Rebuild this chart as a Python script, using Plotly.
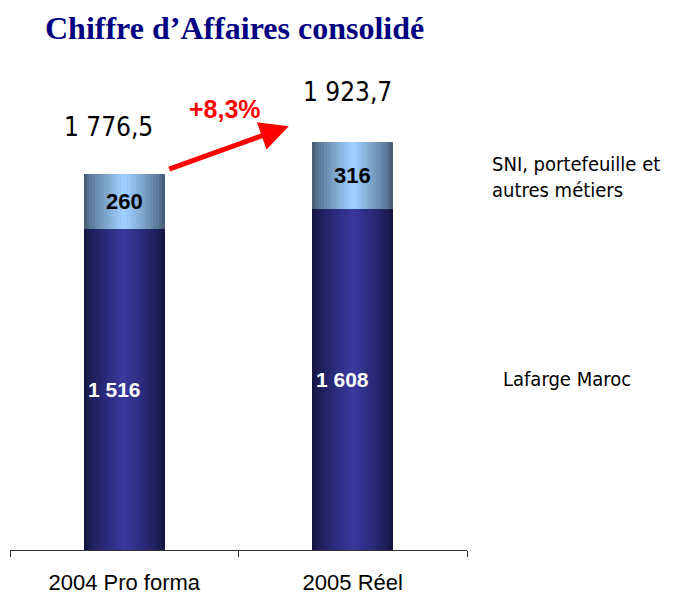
import plotly.graph_objects as go

categories = ["2004 Pro forma", "2005 Réel"]
lafarge = [1516, 1608]
sni = [260, 316]
totals = [1776.5, 1923.7]
total_labels = ["1 776,5", "1 923,7"]
lafarge_labels = ["1 516", "1 608"]
sni_labels = ["260", "316"]
growth_label = "+8,3%"
series_names = ["Lafarge Maroc", "SNI, portefeuille et<br>autres métiers"]

NARROW = "DejaVu Sans Condensed, Liberation Sans Narrow, Arial Narrow, sans-serif"
SANS = "Liberation Sans, Arial, sans-serif"

def lerp(c1, c2, t):
    a = [int(c1[i:i + 2], 16) for i in (1, 3, 5)]
    b = [int(c2[i:i + 2], 16) for i in (1, 3, 5)]
    return "#%02x%02x%02x" % tuple(round(a[k] + (b[k] - a[k]) * t) for k in range(3))

fig = go.Figure()
W = 0.355
N = 14
for i in range(N):
    t = i / (N - 1)
    w = W * (1 - i / N)
    fig.add_trace(go.Bar(x=categories, y=lafarge, width=w,
                         marker=dict(color=lerp("#161645", "#37379c", t ** 0.8), line=dict(width=0)),
                         showlegend=False, hoverinfo="skip"))
    fig.add_trace(go.Bar(x=categories, y=sni, base=lafarge, width=w,
                         marker=dict(color=lerp("#48607a", "#9dcfff", t ** 0.8), line=dict(width=0)),
                         showlegend=False, hoverinfo="skip"))

ann = []
for i, c in enumerate(categories):
    ann.append(dict(x=c, y=totals[i], text=total_labels[i], showarrow=False,
                    yshift=[47, 50][i], xshift=[-16, -5][i],
                    font=dict(family=NARROW, size=26, color="black")))
    ann.append(dict(x=c, y=lafarge[i] / 2, text="<b>%s</b>" % lafarge_labels[i], showarrow=False,
                    xshift=-10,
                    font=dict(family=SANS, size=21, color="white")))
    ann.append(dict(x=c, y=lafarge[i] + sni[i] / 2, text="<b>%s</b>" % sni_labels[i], showarrow=False,
                    font=dict(family=SANS, size=22, color="black")))

# growth arrow
ann.append(dict(x=0.72, y=2000, ax=0.19, ay=1795, axref="x", ayref="y", xref="x", yref="y",
                text="", showarrow=True, arrowhead=2, arrowsize=1.15, arrowwidth=5, arrowcolor="#ff0000"))
ann.append(dict(x=0.44, y=2080, xref="x", yref="y", text="<b>%s</b>" % growth_label, showarrow=False,
                font=dict(family=SANS, size=25, color="#ff0000")))

# series labels on the right
ann.append(dict(xref="paper", yref="y", x=1.051, y=lafarge[1] + sni[1] * 0.5 - 5, xanchor="left",
                text=series_names[1], showarrow=False, align="left",
                font=dict(family=NARROW, size=20, color="black")))
ann.append(dict(xref="paper", yref="y", x=1.075, y=lafarge[1] * 0.5 + 2, xanchor="left",
                text=series_names[0], showarrow=False, align="left",
                font=dict(family=NARROW, size=20, color="black")))

fig.update_layout(
    width=667, height=586,
    barmode="overlay", bargap=0,
    plot_bgcolor="white", paper_bgcolor="white",
    margin=dict(l=2, r=208, t=72, b=44),
    title=dict(text="<b>Chiffre d’Affaires consolidé</b>", x=37 / 667, xanchor="left", y=1 - 20 / 586, yanchor="middle",
               font=dict(family="Liberation Serif, Times New Roman, serif", size=32, color="#000080")),
    annotations=ann,
    showlegend=False,
)
fig.update_xaxes(showline=True, linecolor="#333333", linewidth=1, tickson="boundaries", ticks="outside",
                 ticklen=6, tickcolor="#333333", showgrid=False, automargin=False, ticklabelstandoff=13,
                 tickfont=dict(family=SANS, size=22, color="black"))
fig.update_yaxes(range=[0, 2218], visible=False, showgrid=False, zeroline=False)

fig.write_html("out.html")
